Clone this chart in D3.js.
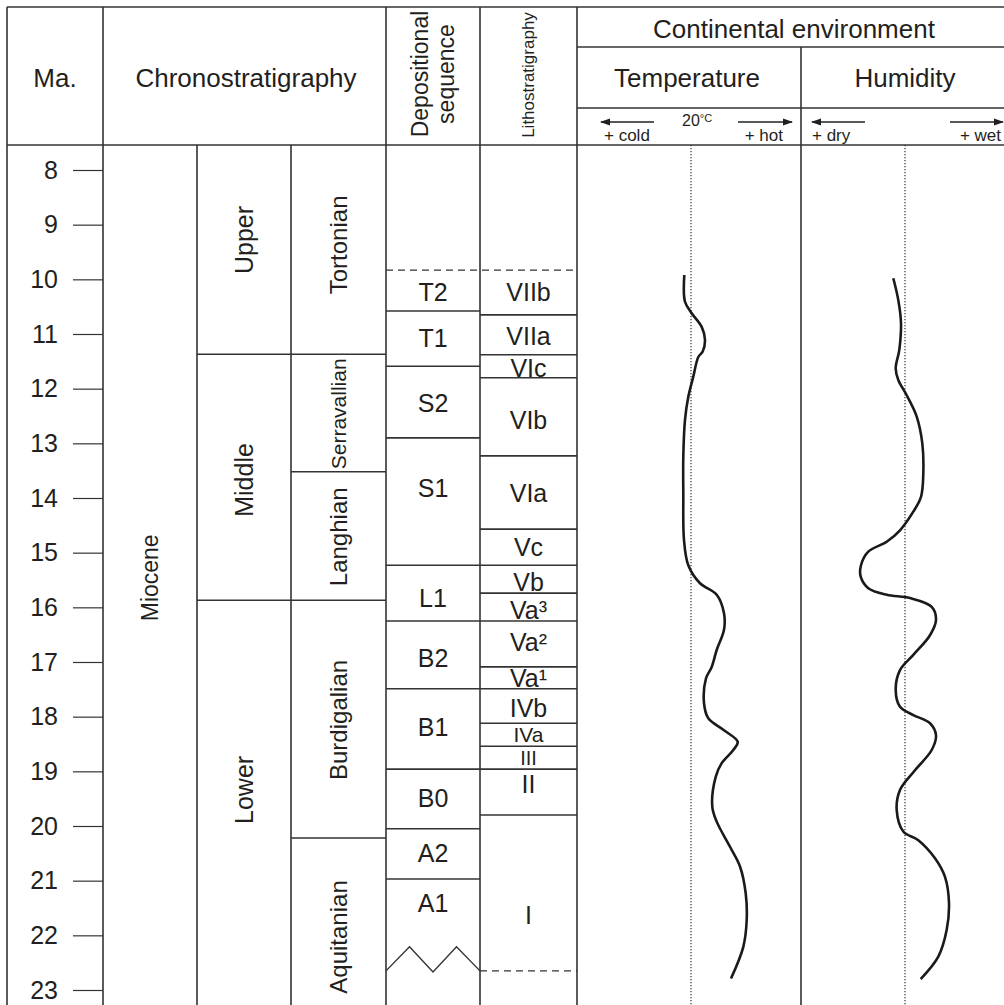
<!DOCTYPE html>
<html>
<head>
<meta charset="utf-8">
<script src="https://cdn.jsdelivr.net/npm/d3@7"></script>
<style>
  body { margin: 0; background: #fff; }
  text { font-family: "Liberation Sans", Arial, Helvetica, sans-serif; fill: #231f20; }
</style>
</head>
<body>
<script>
// age ticks (Ma)
const ageTicks = [8, 9, 10, 11, 12, 13, 14, 15, 16, 17, 18, 19, 20, 21, 22, 23];

// chronostratigraphy: base age and label position (Ma)
const epochs = [ {name: 'Miocene', base: null, labelAt: 15.46} ];
const subEpochs = [
    {name: 'Upper',  base: 11.37, labelAt: 9.28},
    {name: 'Middle', base: 15.87, labelAt: 13.67},
    {name: 'Lower',  base: null,  labelAt: 19.34}
];
const stages = [
    {name: 'Tortonian',    base: 11.37, labelAt: 9.37},
    {name: 'Serravallian', base: 13.52, labelAt: 12.46},
    {name: 'Langhian',     base: 15.87, labelAt: 14.71},
    {name: 'Burdigalian',  base: 20.22, labelAt: 18.06},
    {name: 'Aquitanian',   base: null,  labelAt: 22.03}
];

// depositional sequences
const seqTop = 9.83;
const sequences = [
    {name: 'T2', base: 10.58, labelAt: 10.23},
    {name: 'T1', base: 11.59, labelAt: 11.07},
    {name: 'S2', base: 12.90, labelAt: 12.26},
    {name: 'S1', base: 15.23, labelAt: 13.82},
    {name: 'L1', base: 16.25, labelAt: 15.83},
    {name: 'B2', base: 17.49, labelAt: 16.93},
    {name: 'B1', base: 18.96, labelAt: 18.19},
    {name: 'B0', base: 20.05, labelAt: 19.49},
    {name: 'A2', base: 20.97, labelAt: 20.49},
    {name: 'A1', base: null,  labelAt: 21.41}
];
// unconformity zigzag at the base of A1 (Ma of each vertex)
const zigzag = [22.65, 22.21, 22.67, 22.21, 22.65];

// lithostratigraphy
const lithoTop = 9.83;
const lithoBase = 22.65;
const lithoUnits = [
    {name: 'VIIb', base: 10.65, labelAt: 10.23},
    {name: 'VIIa', base: 11.38, labelAt: 11.05},
    {name: 'VIc',  base: 11.80, labelAt: 11.62},
    {name: 'VIb',  base: 13.23, labelAt: 12.57},
    {name: 'VIa',  base: 14.57, labelAt: 13.91},
    {name: 'Vc',   base: 15.23, labelAt: 14.91},
    {name: 'Vb',   base: 15.74, labelAt: 15.54},
    {name: 'Va³',  base: 16.25, labelAt: 16.05},
    {name: 'Va²',  base: 17.09, labelAt: 16.63},
    {name: 'Va¹',  base: 17.49, labelAt: 17.29},
    {name: 'IVb',  base: 18.12, labelAt: 17.84},
    {name: 'IVa',  base: 18.54, labelAt: 18.32},
    {name: 'III',  base: 18.96, labelAt: 18.76},
    {name: 'II',   base: 19.80, labelAt: 19.23},
    {name: 'I',    base: null,  labelAt: 21.63}
];

// continental environment curves: [relative value (0 = reference), age Ma]
const temperature = [
    [-0.67, 9.92], [-0.6, 10.41], [0.07, 10.62], [1.07, 10.87], [1.4, 11.11], [1.17, 11.32],
    [0.73, 11.42], [0.23, 11.78], [-0.27, 12.15], [-0.6, 12.57], [-0.77, 13.24], [-0.77, 13.91],
    [-0.7, 14.77], [-0.27, 15.23], [0.9, 15.56], [2.57, 15.77], [3.3, 16.11], [3.3, 16.41],
    [2.57, 16.78], [2.07, 17.09], [1.5, 17.30], [1.3, 17.75], [1.73, 18.03], [3.23, 18.24],
    [4.67, 18.46], [4.23, 18.61], [3.07, 18.85], [2.47, 19.10], [2.13, 19.65], [2.57, 19.92],
    [3.9, 20.38], [4.9, 20.74], [5.47, 21.23], [5.57, 21.72], [5.23, 22.21], [4.0, 22.79]
];
const humidity = [
    [-1.17, 9.98], [-0.67, 10.38], [-0.4, 10.80], [-0.57, 11.29], [-0.93, 11.63], [-0.67, 11.84],
    [0.17, 12.12], [1.17, 12.51], [1.73, 13.0], [1.83, 13.55], [1.6, 13.98], [0.83, 14.25],
    [-0.5, 14.59], [-1.83, 14.80], [-3.67, 14.98], [-4.4, 15.23], [-4.43, 15.44], [-3.67, 15.65],
    [-1.83, 15.77], [0.5, 15.83], [2.67, 15.99], [3.1, 16.23], [2.5, 16.51], [0.83, 16.87],
    [-0.5, 17.15], [-0.93, 17.51], [-0.5, 17.82], [0.83, 17.97], [2.5, 18.12], [3.1, 18.34],
    [2.67, 18.61], [1.0, 18.98], [-0.5, 19.34], [-0.83, 19.71], [-0.17, 20.10], [1.33, 20.26],
    [3.0, 20.59], [4.0, 20.93], [4.4, 21.41], [4.17, 21.90], [3.33, 22.39], [1.57, 22.80]
];

const config = {
    width: 1004,
    height: 1005,
    col: {left: 7, ma: 103, epoch: 197, sub: 291, stage: 386, seq: 480, litho: 577, temp: 801, right: 1012},
    row: {top: 7, env: 47, param: 108, head: 145},
    lineColor: '#333'
};

const self = {};
self.svg = d3.select('body').append('svg')
    .attr('width', config.width)
    .attr('height', config.height);

const c = config.col, r = config.row, H = config.height;

self.y = d3.scaleLinear().domain([8, 23]).range([170, 990]);
self.xTemp = d3.scaleLinear().domain([-11.4, 11]).range([c.litho, c.temp]);
self.xHum = d3.scaleLinear().domain([-10.4, 9.9]).range([c.temp, 1004]);

const defs = self.svg.append('defs');
defs.append('marker')
    .attr('id', 'arrow')
    .attr('viewBox', '0 0 10 8')
    .attr('refX', 9).attr('refY', 4)
    .attr('markerWidth', 10).attr('markerHeight', 8)
    .attr('markerUnits', 'userSpaceOnUse')
    .attr('orient', 'auto')
    .append('path')
    .attr('d', 'M0,0.5 L10,4 L0,7.5 Z')
    .attr('fill', '#231f20');

const grid = self.svg.append('g')
    .attr('stroke', config.lineColor)
    .attr('stroke-width', 1.6)
    .attr('fill', 'none');

function line(x1, y1, x2, y2, dash) {
    const l = grid.append('line')
        .attr('x1', x1).attr('y1', y1)
        .attr('x2', x2).attr('y2', y2);
    if (dash) l.attr('stroke-dasharray', dash).attr('stroke-width', 1.2);
    return l;
}

// frame
line(c.left, r.top, c.right, r.top);
line(c.left, r.head, c.right, r.head);
line(c.litho, r.env, c.right, r.env);
line(c.litho, r.param, c.right, r.param);
[c.left, c.ma, c.stage, c.seq, c.litho].forEach(x => line(x, r.top, x, H));
line(c.temp, r.env, c.temp, H);
[c.epoch, c.sub].forEach(x => line(x, r.head, x, H));

// header texts
const head = self.svg.append('g');
function label(x, y, txt, size, rotate) {
    return head.append('text')
        .attr('transform', `translate(${x},${y})` + (rotate ? ' rotate(-90)' : ''))
        .attr('text-anchor', 'middle')
        .attr('dy', '0.35em')
        .style('font-size', size + 'px')
        .text(txt);
}
label(55, 78, 'Ma.', 26);
label(246, 78, 'Chronostratigraphy', 26);
label(420, 74, 'Depositional', 23, true);
label(446, 74, 'sequence', 23, true);
label(528, 75, 'Lithostratigraphy', 17, true);
label(794, 29, 'Continental environment', 26);
label(687, 78, 'Temperature', 26);
label(905, 78, 'Humidity', 26);

// arrows and small labels
function arrow(x1, x2, yy) {
    self.svg.append('line')
        .attr('x1', x1).attr('y1', yy).attr('x2', x2).attr('y2', yy)
        .attr('stroke', '#231f20').attr('stroke-width', 1.5)
        .attr('marker-end', 'url(#arrow)');
}
function small(x, y, txt, anchor) {
    return self.svg.append('text')
        .attr('x', x).attr('y', y)
        .attr('text-anchor', anchor)
        .style('font-size', '17px')
        .text(txt);
}
arrow(654, 601, 122);
arrow(738, 792, 122);
arrow(865, 812, 122);
arrow(950, 1003, 122);
small(604, 141, '+ cold', 'start');
small(783, 141, '+ hot', 'end');
small(812, 141, '+ dry', 'start');
small(1001, 141, '+ wet', 'end');
const deg = self.svg.append('text')
    .attr('x', 682).attr('y', 126)
    .style('font-size', '16px');
deg.append('tspan').text('20');
deg.append('tspan').attr('dy', -4).style('font-size', '11px').text('°C');

// age axis
const axis = d3.axisLeft(self.y)
    .tickValues(ageTicks)
    .tickSize(30)
    .tickPadding(15)
    .tickFormat(d3.format('d'));
const axisG = self.svg.append('g')
    .attr('transform', `translate(${c.ma},0)`)
    .call(axis);
axisG.select('.domain').remove();
axisG.selectAll('.tick line').attr('stroke', config.lineColor).attr('stroke-width', 1.2);
axisG.selectAll('.tick text')
    .style('font-size', '25px')
    .style('font-family', '"Liberation Sans", Arial, sans-serif')
    .attr('fill', '#231f20');

// tighter labels where units are thin
const fontOverride = {'Serravallian': 21, 'Miocene': 23, 'IVa': 21, 'III': 20};

// unit columns
function column(units, x0, x1, rotate, size) {
    const cx = (x0 + x1) / 2;
    units.forEach(u => {
        if (u.base !== null) line(x0, self.y(u.base), x1, self.y(u.base));
        label(cx, self.y(u.labelAt), u.name, fontOverride[u.name] || size, rotate);
    });
}
column(epochs, c.ma, c.epoch, true, 24);
column(subEpochs, c.epoch, c.sub, true, 25);
column(stages, c.sub, c.stage, true, 24);
column(sequences, c.stage, c.seq, false, 25);
column(lithoUnits, c.seq, c.litho, false, 25);

// dashed limits
line(c.stage, self.y(seqTop), c.litho, self.y(lithoTop), '7,5');
line(c.seq, self.y(lithoBase), c.litho, self.y(lithoBase), '7,5');

// zigzag unconformity
const zx = d3.scalePoint().domain(d3.range(zigzag.length)).range([c.stage, c.seq]);
grid.append('path')
    .attr('d', d3.line().x((d, i) => zx(i)).y(d => self.y(d))(zigzag))
    .attr('stroke-width', 1.4);

// reference dotted lines
[self.xTemp(0), self.xHum(0)].forEach(x => {
    self.svg.append('line')
        .attr('x1', x).attr('y1', r.head).attr('x2', x).attr('y2', H)
        .attr('stroke', '#333').attr('stroke-width', 1.2)
        .attr('stroke-dasharray', '1.2,1.8');
});

// curves
const tLine = d3.line()
    .x(d => self.xTemp(d[0]))
    .y(d => self.y(d[1]))
    .curve(d3.curveCatmullRom.alpha(0.5));
const hLine = d3.line()
    .x(d => self.xHum(d[0]))
    .y(d => self.y(d[1]))
    .curve(d3.curveCatmullRom.alpha(0.5));
self.svg.append('path').attr('d', tLine(temperature))
    .attr('fill', 'none').attr('stroke', '#1a1a1a').attr('stroke-width', 2.6);
self.svg.append('path').attr('d', hLine(humidity))
    .attr('fill', 'none').attr('stroke', '#1a1a1a').attr('stroke-width', 2.6);
</script>
</body>
</html>
